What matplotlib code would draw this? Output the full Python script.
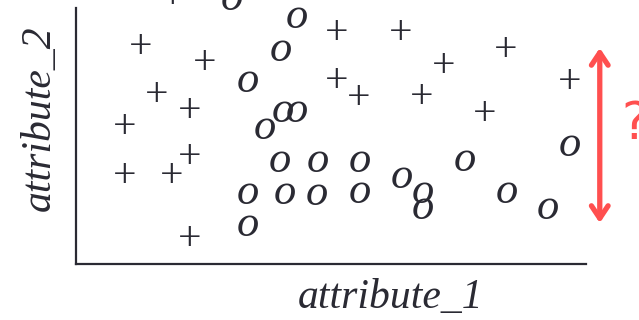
import matplotlib
matplotlib.use("Agg")
import matplotlib.pyplot as plt

# Class "+" samples (attribute_1, attribute_2)
plus_x = [1.90, 1.27, 2.53, 1.59, 2.22, 0.96, 2.22, 0.96, 1.88, 2.22,
          5.12, 6.37, 7.20, 8.43, 5.12, 5.55, 6.78, 8.02, 9.67]
plus_y = [5.20, 4.22, 3.91, 3.28, 2.97, 2.66, 2.07, 1.70, 1.70, 0.47,
          4.49, 4.49, 3.85, 4.16, 3.55, 3.22, 3.24, 2.91, 3.54]

# Class "o" samples (attribute_1, attribute_2)
o_x = [3.06, 4.33, 4.02, 3.37, 3.71, 4.06, 4.33, 4.00, 4.75, 5.57, 6.39,
       3.37, 4.10, 4.73, 5.57, 6.80, 6.80, 3.37, 7.63, 9.69, 8.45, 9.25]
o_y = [5.18, 4.82, 4.18, 3.57, 2.66, 2.99, 2.99, 2.01, 2.01, 2.01, 1.70,
       1.39, 1.39, 1.37, 1.41, 1.41, 1.09, 0.76, 2.03, 2.32, 1.41, 1.09]

# Double arrow marking the spread along attribute_2
arrow_x = 10.27
arrow_y = [0.80, 4.22]

x_label = "attribute_1"
y_label = "attribute_2"

ink = "#2a2a33"
red = "#ff4f4f"
serif = ["Liberation Serif", "DejaVu Serif"]

fig = plt.figure(figsize=(6.39, 3.20), dpi=100)
ax = fig.add_axes([76 / 639, 56 / 320, 510 / 639, 256 / 320])
ax.set_xlim(0, 10)
ax.set_ylim(0, 5)

for s in ("top", "right"):
    ax.spines[s].set_visible(False)
for s in ("left", "bottom"):
    ax.spines[s].set_color(ink)
    ax.spines[s].set_linewidth(1.6)
ax.set_xticks([])
ax.set_yticks([])

for x, y in zip(plus_x, plus_y):
    ax.text(x, y, "+", ha="center", va="center", fontsize=30,
            family=serif, color=ink, clip_on=False)

for x, y in zip(o_x, o_y):
    ax.text(x, y, "o", ha="center", va="center", fontsize=32,
            family=serif, style="italic", color=ink, clip_on=False)

ax.annotate("", xy=(arrow_x, arrow_y[1]), xytext=(arrow_x, arrow_y[0]),
            xycoords="data", textcoords="data", annotation_clip=False,
            arrowprops=dict(arrowstyle="<->,head_length=0.9,head_width=0.6",
                            color=red, lw=3.8, shrinkA=0, shrinkB=0,
                            joinstyle="round", capstyle="round"))
ax.text(10.97, 2.71, "?", ha="center", va="center", fontsize=37,
        color=red, family=["DejaVu Sans"], clip_on=False)

ax.set_xlabel(x_label, fontsize=30, family=serif, style="italic", color=ink)
ax.xaxis.set_label_coords(0.616, -0.133)
ax.xaxis.label.set_va("center")
ax.set_ylabel(y_label, fontsize=30, family=serif, style="italic", color=ink)
ax.yaxis.set_label_coords(-0.0706, 0.57)
ax.yaxis.label.set_va("center")

fig.savefig("out.png", dpi=100)
